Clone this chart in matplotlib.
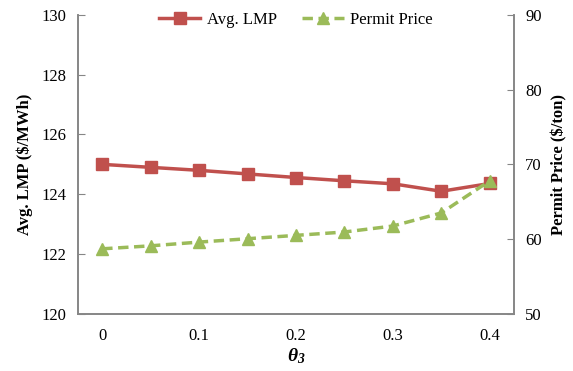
import matplotlib.pyplot as plt
from matplotlib.ticker import MultipleLocator

theta = [0, 0.05, 0.1, 0.15, 0.2, 0.25, 0.3, 0.35, 0.4]
avg_lmp = [125.0, 124.9, 124.8, 124.68, 124.56, 124.45, 124.35, 124.1, 124.36]
permit_price = [58.7, 59.1, 59.6, 60.05, 60.5, 60.95, 61.75, 63.5, 67.8]

plt.rcParams["font.family"] = ["Liberation Serif", "DejaVu Serif"]
# bold italic math for the theta label
plt.rcParams["mathtext.fontset"] = "custom"
plt.rcParams["mathtext.it"] = "Liberation Serif:italic:bold"
plt.rcParams["mathtext.rm"] = "Liberation Serif:italic:bold"

gray = "#868686"
red = "#C0504D"
green = "#9BBB59"

fig = plt.figure(figsize=(5.73, 3.71), dpi=100)
ax = fig.add_axes([0.136, 0.154, 0.761, 0.806])
ax2 = ax.twinx()

l1, = ax.plot(theta, avg_lmp, color=red, lw=2.5, marker="s", ms=8,
              label="Avg. LMP", zorder=3)
l2, = ax2.plot(theta, permit_price, color=green, lw=2.5, ls=(0, (3, 1.6)),
               marker="^", ms=8, label="Permit Price", zorder=3)

ax.set_xlim(-0.025, 0.425)
ax.set_ylim(120, 130)
ax2.set_ylim(50, 90)
ax.set_xticks([0, 0.1, 0.2, 0.3, 0.4])
ax.set_xticklabels(["0", "0.1", "0.2", "0.3", "0.4"])
ax.yaxis.set_major_locator(MultipleLocator(2))
ax2.yaxis.set_major_locator(MultipleLocator(10))

for a in (ax, ax2):
    for s in a.spines.values():
        s.set_color(gray)
        s.set_linewidth(1.2)
    a.tick_params(labelsize=12, colors=gray, labelcolor="black", direction="in",
                  length=5, pad=8)
ax.tick_params(axis="x", length=0, pad=10)
ax.spines["top"].set_visible(False)
ax2.spines["top"].set_visible(False)

ax.set_ylabel("Avg. LMP ($/MWh)", fontsize=12, fontweight="bold", labelpad=6)
ax2.set_ylabel("Permit Price ($/ton)", fontsize=12, fontweight="bold", labelpad=7)
ax.set_xlabel(r"$\theta_3$", fontsize=14, labelpad=2)

ax.legend(handles=[l1, l2], loc="upper center", ncol=2, frameon=False,
          fontsize=12, bbox_to_anchor=(0.5, 1.06), handlelength=2.5,
          columnspacing=1.5, handletextpad=0.4)

fig.savefig("out.png", dpi=100)
